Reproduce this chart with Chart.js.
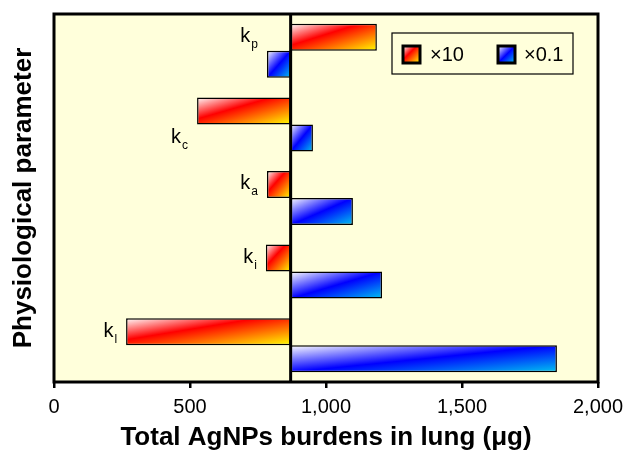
<!DOCTYPE html>
<html>
<head>
<meta charset="utf-8">
<script src="https://cdn.jsdelivr.net/npm/chart.js@4/dist/chart.umd.min.js"></script>
<style>
  html, body { margin: 0; padding: 0; background: #fff; }
  #wrap { width: 626px; height: 455px; }
</style>
</head>
<body>
<div id="wrap"><canvas id="lungChart" width="626" height="455"></canvas></div>
<script>
// parameters, top to bottom (k + subscript)
const params = ['kp', 'kc', 'ka', 'ki', 'kl'];
const paramSubs = ['p', 'c', 'a', 'i', 'l'];
// baseline burden (µg) where all bars start
const baseline = 870;
// bar ends for each perturbation
const timesTen = [1187, 526, 783, 779, 265];
const timesTenth = [783, 952, 1099, 1206, 1849];
const seriesNames = ['\u00d710', '\u00d70.1'];
const xTicks = [0, 500, 1000, 1500, 2000];

const FONT = '"Liberation Sans", Arial, sans-serif';
const redStops = [[0, '#ffffff'], [0.4, '#ff0000'], [1, '#ffff00']];
const blueStops = [[0, '#ffffff'], [0.5, '#0000ff'], [1, '#00c4f0']];

// gradient like an office "diagonal" fill: stretched to the box
function diagGrad(ctx, x0, y0, w, h, stops) {
  w = Math.max(w, 1); h = Math.max(h, 1);
  const k = 2 / (1 / (w * w) + 1 / (h * h));
  const g = ctx.createLinearGradient(x0, y0, x0 + k / w, y0 + k / h);
  stops.forEach(([o, c]) => g.addColorStop(o, c));
  return g;
}

const chartFrame = {
  id: 'chartFrame',
  beforeDraw(chart) {
    const { ctx, chartArea: a } = chart;
    ctx.save();
    ctx.fillStyle = '#ffffdb';
    ctx.fillRect(a.left, a.top, a.right - a.left, a.bottom - a.top);
    ctx.restore();
  },
  beforeDatasetsDraw(chart) {
    const ctx = chart.ctx;
    chart.data.datasets.forEach((ds, di) => {
      chart.getDatasetMeta(di).data.forEach(el => {
        const left = Math.min(el.x, el.base);
        const w = Math.abs(el.x - el.base);
        const top = el.y - el.height / 2;
        el.options.backgroundColor = diagGrad(ctx, left, top, w, el.height, ds.gradStops);
      });
    });
  },
  afterDatasetsDraw(chart) {
    const { ctx, chartArea: a, scales: { x } } = chart;
    ctx.save();
    ctx.strokeStyle = '#000';
    // baseline
    ctx.lineWidth = 3;
    const bx = x.getPixelForValue(baseline);
    ctx.beginPath();
    ctx.moveTo(bx, a.top);
    ctx.lineTo(bx, a.bottom);
    ctx.stroke();
    // frame
    ctx.lineWidth = 3;
    ctx.strokeRect(a.left, a.top, a.right - a.left, a.bottom - a.top);

    // parameter labels, placed left of the leftmost bar of each pair
    const rowFrom = [0, 1, 0, 0, 0];
    const red = chart.getDatasetMeta(0).data;
    const blue = chart.getDatasetMeta(1).data;
    ctx.fillStyle = '#000';
    ctx.textBaseline = 'alphabetic';
    params.forEach((p, i) => {
      const left = Math.min(red[i].x, red[i].base, blue[i].x, blue[i].base);
      const row = rowFrom[i] === 0 ? red[i] : blue[i];
      const y = row.y + 5;
      ctx.font = '12px ' + FONT;
      const sw = ctx.measureText(paramSubs[i]).width;
      ctx.font = '20px ' + FONT;
      const kw = ctx.measureText('k').width;
      const xr = left - 9;
      ctx.textAlign = 'left';
      ctx.fillText('k', xr - sw - kw - 1, y);
      ctx.font = '12px ' + FONT;
      ctx.fillText(paramSubs[i], xr - sw, y + 6);
    });

    // legend box
    const lw = 181, lh = 41;
    const lx = a.right - 25 - lw, ly = a.top + 19;
    ctx.fillStyle = '#ffffdb';
    ctx.fillRect(lx, ly, lw, lh);
    ctx.lineWidth = 1.2;
    ctx.strokeRect(lx, ly, lw, lh);
    const items = [{ sx: lx + 11, tx: lx + 38 }, { sx: lx + 106, tx: lx + 132 }];
    chart.data.datasets.forEach((ds, di) => {
      const it = items[di];
      const sy = ly + 13, s = 17;
      ctx.fillStyle = diagGrad(ctx, it.sx, sy, s, s, ds.gradStops);
      ctx.fillRect(it.sx, sy, s, s);
      ctx.lineWidth = 3;
      ctx.strokeRect(it.sx, sy, s, s);
      ctx.fillStyle = '#000';
      ctx.font = '20px ' + FONT;
      ctx.textBaseline = 'middle';
      ctx.fillText(ds.label, it.tx, sy + s / 2 + 1);
    });
    ctx.restore();
  }
};

new Chart(document.getElementById('lungChart').getContext('2d'), {
  type: 'bar',
  data: {
    labels: params,
    datasets: [
      {
        label: seriesNames[0],
        data: timesTen.map(v => [baseline, v]),
        gradStops: redStops,
        backgroundColor: () => '#ff0000',
        borderColor: '#000',
        borderWidth: 1.5,
        borderSkipped: false
      },
      {
        label: seriesNames[1],
        data: timesTenth.map(v => [baseline, v]),
        gradStops: blueStops,
        backgroundColor: () => '#0000ff',
        borderColor: '#000',
        borderWidth: 1.5,
        borderSkipped: false
      }
    ]
  },
  options: {
    indexAxis: 'y',
    responsive: false,
    animation: false,
    events: [],
    categoryPercentage: 0.734,
    barPercentage: 1.0,
    layout: { padding: { top: 14, right: 28, left: 0, bottom: 0 } },
    plugins: {
      legend: { display: false },
      tooltip: { enabled: false }
    },
    scales: {
      x: {
        min: xTicks[0],
        max: xTicks[xTicks.length - 1],
        afterBuildTicks: s => { s.ticks = xTicks.map(v => ({ value: v })); },
        afterFit: s => { s.height = 73; s.paddingLeft = 0; s.paddingRight = 0; },
        border: { display: false },
        grid: {
          drawOnChartArea: false,
          drawTicks: true,
          tickLength: 6,
          color: '#000',
          lineWidth: 2.5
        },
        ticks: {
          color: '#000',
          padding: 7,
          font: { family: FONT, size: 20 },
          callback: v => v.toLocaleString('en-US')
        },
        title: {
          display: true,
          text: 'Total AgNPs burdens in lung (\u03bcg)',
          color: '#000',
          font: { family: FONT, size: 26, weight: 'bold' },
          padding: { top: 0, bottom: 2 }
        }
      },
      y: {
        afterFit: s => { s.width = 54; },
        border: { display: false },
        grid: { display: false },
        ticks: { display: false },
        title: {
          display: true,
          text: 'Physiological parameter',
          color: '#000',
          font: { family: FONT, size: 26, weight: 'bold' },
          padding: { top: 8, bottom: 0 }
        }
      }
    }
  },
  plugins: [chartFrame]
});
</script>
</body>
</html>
